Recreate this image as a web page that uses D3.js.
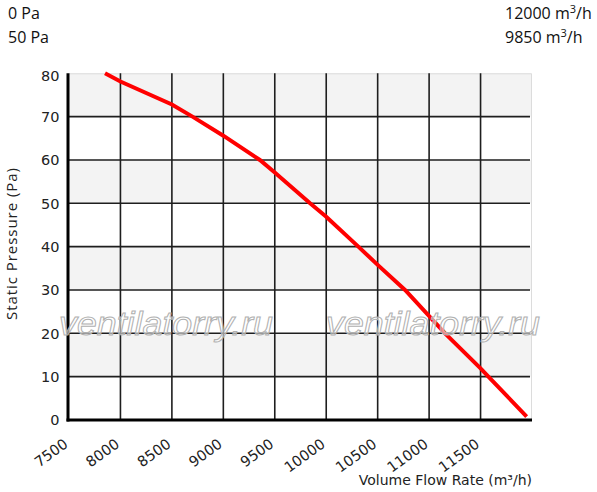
<!DOCTYPE html>
<html>
<head>
<meta charset="utf-8">
<script src="https://cdn.jsdelivr.net/npm/d3@7"></script>
<style>
  body { margin: 0; background: #fff; }
  svg { display: block; }
  .tick-label { font-family: "DejaVu Sans", sans-serif; font-size: 14.5px; fill: #222; }
  .axis-label { font-family: "DejaVu Sans", sans-serif; fill: #222; }
  .info { font-family: "Open Sans", sans-serif; font-size: 16px; fill: #111; }
  .mark { font-family: "Liberation Sans", Arial, sans-serif; font-style: italic; font-size: 34px;
          fill: #fff; fill-opacity: 0.55; stroke: #b0b0b0; stroke-width: 1; }
</style>
</head>
<body>
<div id="chart"></div>
<script>
// fan curve
const flow = [7850, 8000, 8500, 8700, 9000, 9355, 9500, 9843, 10000, 10312, 10500, 10766, 11155, 11500, 11576, 11948];
const pressure = [80, 78.1, 72.8, 70, 65.6, 60, 57.1, 50, 46.9, 40, 35.8, 30, 20, 11.9, 10, 0.8];

const xTicks = [7500, 8000, 8500, 9000, 9500, 10000, 10500, 11000, 11500];
const yTicks = [0, 10, 20, 30, 40, 50, 60, 70, 80];

const width = 597, height = 492;
const margin = { top: 73.3, right: 65, bottom: 72, left: 69 };
const innerW = width - margin.left - margin.right;
const innerH = height - margin.top - margin.bottom;

const svg = d3.select("#chart").append("svg")
  .attr("width", width)
  .attr("height", height);

const chart = svg.append("g")
  .attr("transform", `translate(${margin.left},${margin.top})`);

const x = d3.scaleLinear().domain([7500, 12000]).range([0, innerW]);
const y = d3.scaleLinear().domain([0, 80]).range([innerH, 0]);

// alternating grey bands
const bands = d3.range(0, 80, 10).filter(v => (v / 10) % 2 === 1);
chart.selectAll(".band")
  .data(bands)
  .join("rect")
  .attr("class", "band")
  .attr("x", 0)
  .attr("y", d => y(d + 10))
  .attr("width", innerW)
  .attr("height", d => y(d) - y(d + 10))
  .attr("fill", "#f3f3f3");

// light frame top / right
chart.append("path")
  .attr("d", `M0,0.5H${innerW - 0.5}V${innerH}`)
  .attr("fill", "none")
  .attr("stroke", "#dcdcdc")
  .attr("stroke-width", 1);

// grid
chart.selectAll(".hgrid")
  .data(yTicks.filter(d => d > 0 && d < 80))
  .join("line")
  .attr("x1", 0)
  .attr("x2", innerW - 2)
  .attr("y1", d => y(d))
  .attr("y2", d => y(d))
  .attr("stroke", "#1e1e1e")
  .attr("stroke-width", 1.6);

chart.selectAll(".vgrid")
  .data(xTicks.filter(d => d > 7500))
  .join("line")
  .attr("x1", d => x(d))
  .attr("x2", d => x(d))
  .attr("y1", 0)
  .attr("y2", innerH)
  .attr("stroke", "#1e1e1e")
  .attr("stroke-width", 1.6);

// watermark
const marks = [59, 326];
svg.selectAll(".mark")
  .data(marks)
  .join("text")
  .attr("class", "mark")
  .attr("x", d => d)
  .attr("y", 335)
  .attr("textLength", 214)
  .attr("lengthAdjust", "spacingAndGlyphs")
  .text("ventilatorry.ru");

// axes lines
chart.append("line")
  .attr("x1", -1).attr("x2", -1)
  .attr("y1", 0).attr("y2", innerH + 1.5)
  .attr("stroke", "#000").attr("stroke-width", 3);
chart.append("line")
  .attr("x1", -2.5).attr("x2", innerW)
  .attr("y1", innerH).attr("y2", innerH)
  .attr("stroke", "#000").attr("stroke-width", 3);

// y tick labels
chart.selectAll(".ylab")
  .data(yTicks)
  .join("text")
  .attr("class", "tick-label")
  .attr("x", -9.5)
  .attr("y", d => y(d))
  .attr("dy", d => d === 80 ? "0.5em" : "0.36em")
  .attr("text-anchor", "end")
  .text(d => d);

// x tick labels, rotated
chart.selectAll(".xlab")
  .data(xTicks)
  .join("text")
  .attr("class", "tick-label")
  .attr("text-anchor", "end")
  .attr("transform", d => `translate(${x(d)},${innerH + 26}) rotate(-36)`)
  .text(d => d);

// axis titles
svg.append("text")
  .attr("class", "axis-label")
  .attr("text-anchor", "end")
  .attr("x", margin.left + innerW)
  .attr("y", 485)
  .style("font-size", "14px")
  .text("Volume Flow Rate (m³/h)");

svg.append("text")
  .attr("class", "axis-label")
  .attr("text-anchor", "middle")
  .attr("transform", "translate(17,244) rotate(-90)")
  .style("font-family", "'Open Sans', sans-serif")
  .style("font-size", "15px")
  .attr("textLength", 152)
  .text("Static Pressure (Pa)");

// curve
const line = d3.line()
  .x(d => x(d[0]))
  .y(d => y(d[1]));

chart.append("path")
  .datum(d3.zip(flow, pressure))
  .attr("d", line)
  .attr("fill", "none")
  .attr("stroke", "#ff0000")
  .attr("stroke-width", 4);

// header info
const infoLeft = ["0 Pa", "50 Pa"];
const infoRight = ["12000", "9850"];
svg.selectAll(".infoL")
  .data(infoLeft)
  .join("text")
  .attr("class", "info")
  .attr("x", 8)
  .attr("y", (d, i) => 19 + i * 24)
  .text(d => d);

const infoR = svg.selectAll(".infoR")
  .data(infoRight)
  .join("text")
  .attr("class", "info")
  .attr("x", 505)
  .attr("y", (d, i) => 19 + i * 24);
infoR.append("tspan").text(d => d + " m");
infoR.append("tspan").attr("dy", -6).style("font-size", "11px").text("3");
infoR.append("tspan").attr("dy", 6).text("/h");
</script>
</body>
</html>
